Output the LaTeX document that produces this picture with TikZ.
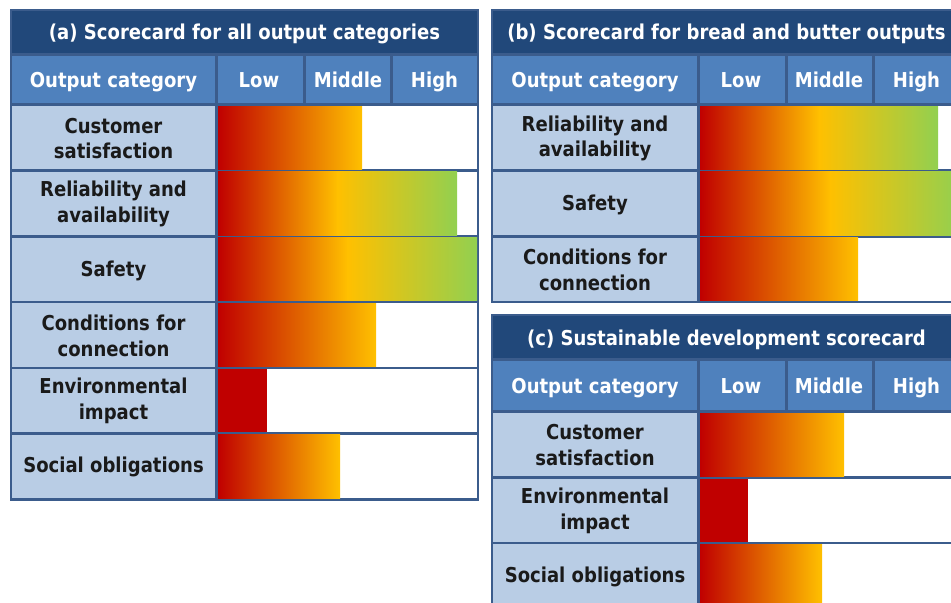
\documentclass[tikz,border=0pt]{standalone}
\usepackage{xcolor}
\usepackage{fontspec}
\usepackage{tikz}
\newfontfamily\cardfont[FakeStretch=0.88]{DejaVu Sans}
\definecolor{frameblue}{RGB}{59,92,140}
\definecolor{titleblue}{RGB}{33,72,122}
\definecolor{headblue}{RGB}{79,129,189}
\definecolor{labelblue}{RGB}{185,205,229}
\definecolor{labeltext}{RGB}{26,26,26}
\definecolor{barred}{RGB}{192,0,0}
\definecolor{baryel}{RGB}{255,192,0}
\definecolor{bargrn}{RGB}{146,208,80}
\tikzstyle{every node}=[font=\cardfont\bfseries\fontsize{17.5}{22}\selectfont]
\tikzstyle{oneline}=[text height=12.8pt,text depth=0pt]
\tikzstyle{lowbar}=[left color=barred,right color=baryel]
\tikzstyle{highbar}=[left color=baryel,right color=bargrn]

\begin{document}
\begin{tikzpicture}[line cap=round,line join=round,x=0.03cm,y=-0.03cm]
\useasboundingbox (0,0) rectangle (951,602);
\clip(0,0) rectangle (951,602);

% (a) all output categories
\fill[color=frameblue] (10,9) rectangle (479,500.5);
\fill[color=titleblue] (12,11) rectangle (477,53);
\fill[color=headblue] (12,56) rectangle (215,103);
\fill[color=headblue] (218,56) rectangle (303,103);
\fill[color=headblue] (306,56) rectangle (390,103);
\fill[color=headblue] (393,56) rectangle (477,103);

\fill[color=labelblue] (12,106) rectangle (215,169.25);
\fill[color=labelblue] (12,171.75) rectangle (215,235);
\fill[color=labelblue] (12,237.5) rectangle (215,300.75);
\fill[color=labelblue] (12,303.25) rectangle (215,366.5);
\fill[color=labelblue] (12,369) rectangle (215,432.25);
\fill[color=labelblue] (12,434.75) rectangle (215,498);
\fill[color=white] (218,106) rectangle (477,169.25);
\fill[color=white] (218,171.75) rectangle (477,235);
\fill[color=white] (218,237.5) rectangle (477,300.75);
\fill[color=white] (218,303.25) rectangle (477,366.5);
\fill[color=white] (218,369) rectangle (477,432.25);
\fill[color=white] (218,434.75) rectangle (477,498);

\shade[lowbar] (218,106) rectangle (362,169.25);
\shade[lowbar] (218,171.75) rectangle (338,235);
\shade[highbar] (337.5,171.75) rectangle (457,235);
\shade[lowbar] (218,237.5) rectangle (348,300.75);
\shade[highbar] (347.5,237.5) rectangle (477,300.75);
\shade[lowbar] (218,303.25) rectangle (376,366.5);
\fill[color=barred] (218,369) rectangle (267,432.25);
\shade[lowbar] (218,434.75) rectangle (340,498);

\draw[color=white] (244.5,32.2) node[oneline] (ta) {(a) Scorecard for all output categories};
\draw[color=white] (113.5,80) node[oneline] (ha) {Output category};
\draw[color=white] (259,80) node[oneline] (hal) {Low};
\draw[color=white] (348,80) node[oneline] (ham) {Middle};
\draw[color=white] (434.5,80) node[oneline] (hah) {High};

\draw[color=labeltext] (113.5,138.5) node[align=center] (a1) {Customer\\satisfaction};
\draw[color=labeltext] (113.5,204) node[align=center] (a2) {Reliability and\\availability};
\draw[color=labeltext] (113.5,268.5) node[oneline] (a3) {Safety};
\draw[color=labeltext] (113.5,335.5) node[align=center] (a4) {Conditions for\\connection};
\draw[color=labeltext] (113.5,401) node[align=center] (a5) {Environmental\\impact};
\draw[color=labeltext] (113.5,465) node[oneline] (a6) {Social obligations};

% (b) bread and butter outputs
\fill[color=frameblue] (491,9) rectangle (962,303);
\fill[color=titleblue] (493,11) rectangle (960,53);
\fill[color=headblue] (493,56) rectangle (697,103);
\fill[color=headblue] (700,56) rectangle (785,103);
\fill[color=headblue] (788,56) rectangle (872,103);
\fill[color=headblue] (875,56) rectangle (960,103);

\fill[color=labelblue] (493,106) rectangle (697,169.25);
\fill[color=labelblue] (493,171.75) rectangle (697,235);
\fill[color=labelblue] (493,237.5) rectangle (697,300.75);
\fill[color=white] (700,106) rectangle (960,169.25);
\fill[color=white] (700,171.75) rectangle (960,235);
\fill[color=white] (700,237.5) rectangle (960,300.75);

\shade[lowbar] (700,106) rectangle (819.5,169.25);
\shade[highbar] (819,106) rectangle (938,169.25);
\shade[lowbar] (700,171.75) rectangle (830.5,235);
\shade[highbar] (830,171.75) rectangle (960,235);
\shade[lowbar] (700,237.5) rectangle (858,300.75);

\draw[color=white] (726.5,32.2) node[oneline] (tb) {(b) Scorecard for bread and butter outputs};
\draw[color=white] (595,80) node[oneline] (hb) {Output category};
\draw[color=white] (741,80) node[oneline] (hbl) {Low};
\draw[color=white] (829,80) node[oneline] (hbm) {Middle};
\draw[color=white] (916.5,80) node[oneline] (hbh) {High};

\draw[color=labeltext] (595,138.5) node[align=center] (b1) {Reliability and\\availability};
\draw[color=labeltext] (595,203) node[oneline] (b2) {Safety};
\draw[color=labeltext] (595,269.5) node[align=center] (b3) {Conditions for\\connection};

% (c) sustainable development
\fill[color=frameblue] (491,314) rectangle (962,610);
\fill[color=titleblue] (493,316) rectangle (960,358);
\fill[color=headblue] (493,361) rectangle (697,410);
\fill[color=headblue] (700,361) rectangle (785,410);
\fill[color=headblue] (788,361) rectangle (872,410);
\fill[color=headblue] (875,361) rectangle (960,410);

\fill[color=labelblue] (493,413) rectangle (697,476);
\fill[color=labelblue] (493,478.5) rectangle (697,541.5);
\fill[color=labelblue] (493,544) rectangle (697,607);
\fill[color=white] (700,413) rectangle (960,476);
\fill[color=white] (700,478.5) rectangle (960,541.5);
\fill[color=white] (700,544) rectangle (960,607);

\shade[lowbar] (700,413) rectangle (844,476);
\fill[color=barred] (700,478.5) rectangle (748,541.5);
\shade[lowbar] (700,544) rectangle (822,607);

\draw[color=white] (726.5,337.5) node[oneline] (tc) {(c) Sustainable development scorecard};
\draw[color=white] (595,386) node[oneline] (hc) {Output category};
\draw[color=white] (741,386) node[oneline] (hcl) {Low};
\draw[color=white] (829,386) node[oneline] (hcm) {Middle};
\draw[color=white] (916.5,386) node[oneline] (hch) {High};

\draw[color=labeltext] (595,445) node[align=center] (c1) {Customer\\satisfaction};
\draw[color=labeltext] (595,510.5) node[align=center] (c2) {Environmental\\impact};
\draw[color=labeltext] (595,575) node[oneline] (c3) {Social obligations};
\end{tikzpicture}
\end{document}
